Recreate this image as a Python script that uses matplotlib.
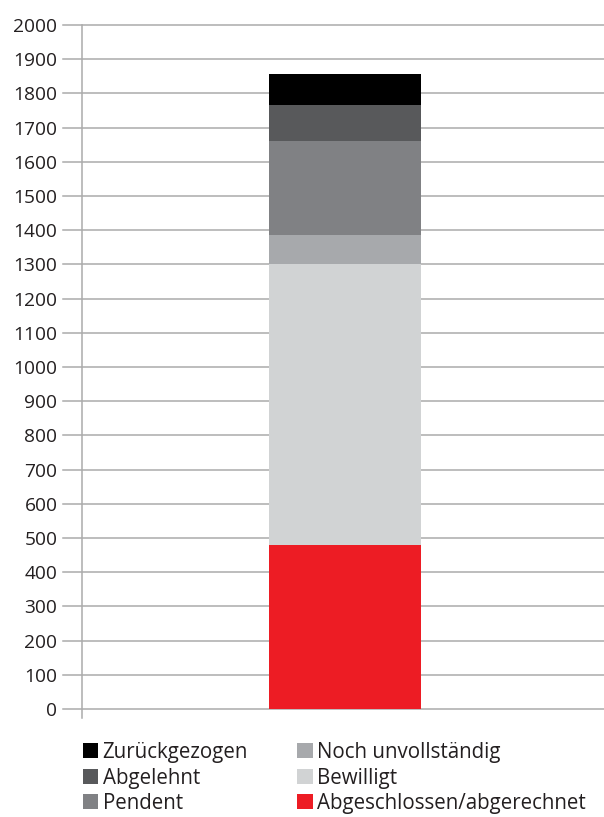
import matplotlib
matplotlib.use('Agg')
import matplotlib.pyplot as plt
from matplotlib.patches import Patch

# stacked segments, bottom to top
labels = ['Abgeschlossen/abgerechnet', 'Bewilligt', 'Noch unvollständig',
          'Pendent', 'Abgelehnt', 'Zurückgezogen']
values = [480, 820, 85, 275, 105, 93]
colors = ['#ed1c24', '#d1d3d4', '#a7a9ac', '#808184', '#58595b', '#000000']
yticks = list(range(0, 2001, 100))

W, H = 604, 817
plt.rcParams['font.family'] = ['Open Sans', 'DejaVu Sans']
text_color = '#231f20'
grid_color = '#ababab'

fig = plt.figure(figsize=(W / 100, H / 100), dpi=100)
ax = fig.add_axes([63 / W, (H - 709) / H, (W - 63) / W, (709 - 25) / H])

# x = 0 is the category axis line, x = 1 the right edge
ax.set_xlim(-19 / 522, 1)
ax.set_ylim(0, 2000)

for y in yticks:
    ax.axhline(y, color=grid_color, lw=1.1, zorder=1, clip_on=False)
ax.plot([0, 0], [-27, 2000], color=grid_color, lw=1.1, zorder=1, clip_on=False)

bottom = 0
handles = []
for lab, v, c in zip(labels, values, colors):
    ax.bar(0.504, v, width=0.29, bottom=bottom, color=c, zorder=2)
    bottom += v
    handles.append(Patch(facecolor=c, label=lab))

ax.set_yticks(yticks)
ax.set_xticks([])
ax.tick_params(axis='y', length=0, pad=4, labelsize=13.8, labelcolor=text_color)
for s in ax.spines.values():
    s.set_visible(False)

handles = handles[::-1]
fig.legend(handles=handles, ncol=2, frameon=False, loc='upper left',
           bbox_to_anchor=(83 / W, 1 - 742 / H), fontsize=14.8,
           handlelength=0.75, handleheight=0.75, handletextpad=0.2,
           columnspacing=2.4, labelspacing=0.22, labelcolor=text_color,
           borderaxespad=0, borderpad=0)

fig.savefig('out.png', dpi=100)
